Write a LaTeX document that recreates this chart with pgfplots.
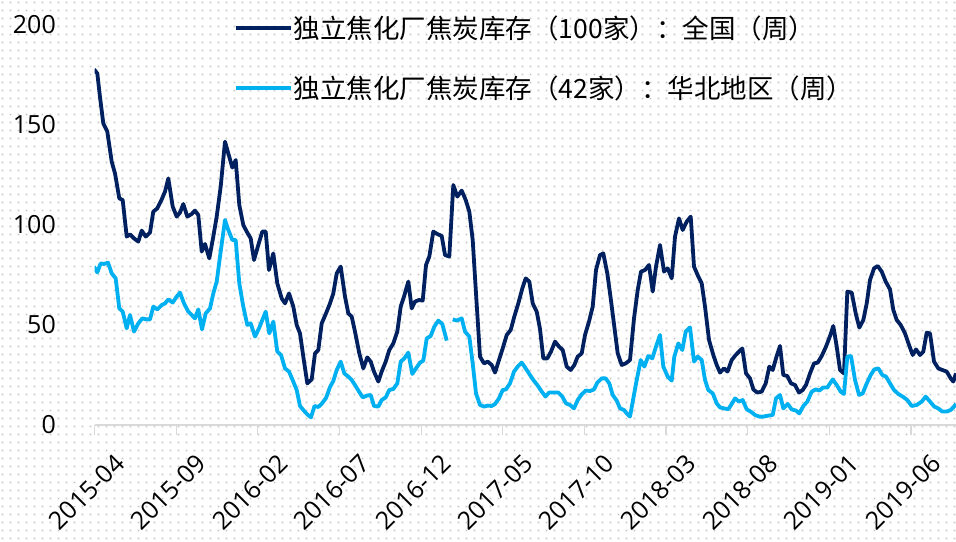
\documentclass[border=0pt]{standalone}
\usepackage{pgfplots}
\pgfplotsset{compat=1.18}
\usepackage{pgfplotstable}
\usepackage{fontspec}
\setmainfont{Open Sans}
\newfontfamily\cjk{Noto Sans CJK SC}
\usetikzlibrary{patterns}
\definecolor{darkblue}{RGB}{0,32,96}
\definecolor{lightblue}{RGB}{0,176,240}
\definecolor{axisgray}{RGB}{217,217,217}
\definecolor{dotgray}{RGB}{200,200,200}
\pgfdeclarepatternformonly{bgdots}{\pgfpoint{0pt}{0pt}}{\pgfpoint{8pt}{8pt}}{\pgfpoint{8pt}{8pt}}{\pgfpathrectangle{\pgfpoint{3pt}{3pt}}{\pgfpoint{2pt}{2pt}}\pgfusepath{fill}}

% px = horizontal position (2015-04 at 94.5, 16.33 per month)
\pgfplotstableread{
px v
94 177.8
97.3 175.8
100 164
103.3 150.8
107.3 146.7
111.7 131.7
115 125.8
119.3 113.3
122.7 112.5
126.7 94.2
130 95.3
134 93.3
138.3 91.7
141.7 97.2
145.7 94.2
150 96.2
153.3 106.7
157.3 108.3
161.7 112.8
165 116.7
168.3 123.3
172.7 109.2
176.7 104.2
180 106.2
183.3 110.5
187.3 104.2
191.7 105.5
195 107.2
198.3 105
201.7 86.7
205 90.5
209.3 83.3
213.3 94.2
216.7 104.2
220.7 119.2
225 141.7
228.3 135.8
232.3 128.7
235.7 132.5
239.3 110
243.3 100
246.7 96.7
250.7 93.3
254 82.5
258.3 90
262.3 96.7
265.7 96.7
269 77.5
273.3 85.8
277.3 70.8
281.7 63.3
285 60.8
289 65.8
293.3 59.2
296.7 50
300 45.8
303.3 34.2
307.3 20.8
311.7 22.8
315 35.8
318.3 37.5
321.7 50.8
326 55.8
330 60.8
333.3 65.8
336.7 75.8
340.7 79.2
345 64.2
348.3 55.8
351.7 54.2
355 46.7
359.3 35.8
363.3 28.3
367.3 33.8
370.7 31.7
374 26.7
378.3 21.7
381.7 26.7
385.7 31.7
389.3 37.5
393.3 40.8
397.3 46.7
400.7 59.2
404 64.2
408.3 71.7
411.7 58.3
415 61.7
419 62.5
422.7 62.2
426 80
429.3 84.2
433.3 96.7
437.3 95.5
441.7 94.5
445 85
449.3 84.2
453.3 120
457.3 114.2
461.7 117.2
465.7 112.5
469.3 106.7
472.7 92.5
476 65.8
480 34.2
484 30.8
487.7 31.7
491.7 30
495 26.2
499 32.5
502.7 38.3
506.7 45
510.7 47.5
514.3 54.2
518.3 60.8
522.3 68.3
525.7 73.3
529.3 71.7
532.7 60.8
536.7 56.7
540 48
543.3 33.3
547.3 33.3
551 36.7
555 41.7
559 39.2
562.7 37.5
566.7 29.2
570.7 27.5
574.3 30
577.7 34.2
581.7 35.8
585 45
589 51.7
592.7 59.2
596 77.5
600 85
603.3 85.8
607.3 75.8
610.7 63.3
614.3 49.2
617.7 35.8
621.7 30
625.7 30.8
630 32.5
634 53.3
637.7 67.5
641 76.7
645 77.5
649 80
652.7 66.7
656 79.2
660 90
664 76.7
667.7 78.3
671.7 73.3
675 94.2
679 103.3
682.7 97.5
686.7 101.7
690.7 104.2
694 79.2
698.3 74.2
701.7 70.8
705 59.2
709 42.5
713.3 35
716.7 30
720 26.2
724 28.3
727.5 26.7
731.7 32.5
735.7 35
739 36.7
742.3 38.3
746 25.8
750 23.3
753.3 17.8
757.3 16.2
761.7 16.7
765.7 20.8
769.3 29.2
772.7 27.5
776.7 34.5
780 39.5
783.3 25
787.3 24.5
791 20.8
795 20
799 16.2
802.7 17.5
806 20
810 25.8
814 30.8
817.7 31.2
821.7 34.5
826 39.2
830 44.5
833.3 49.5
836.7 39.2
840 27.5
844 25.8
847.3 66.7
851.7 66.2
855.7 55.8
859.3 48.7
863.3 52.5
866.7 60.8
870 72.5
874 78.3
877.7 79.5
881.7 76.7
885.7 71.7
890 67.8
893.3 57.5
896.7 52.5
900.7 50
905 45.8
909 40
912.7 35
916 37.8
920 35
923.3 36.7
926.7 46.2
930 45.8
934 31.7
938.3 28.3
942.3 27.5
946.7 26.7
950.7 23.3
953.3 21.7
956 25.8
}\darkdata

\pgfplotstableread{
px v
94 79.2
97.3 76.3
100.7 80.8
104 80.5
108 81.2
111.7 75.8
115.7 73.3
119.3 58.3
122.7 56.7
126.7 48.3
130 55
134 46.7
138.3 50.8
142.3 53.3
146.7 52.8
150 52.8
153.3 59.2
157.3 57.8
161.7 60
165 60.8
168.3 62.8
172.7 61.2
176.7 64.2
180 66.2
184 60.8
188.3 56.7
191.7 55
195 53.3
198.3 57.8
202 47.8
205.7 55.8
210 58.3
213.3 65.8
216.7 71.7
220 84.2
225 102.5
228.3 97.5
232.3 92.5
235.7 92.5
239.3 70.8
243.3 59.2
247.3 50
250.7 50.8
255 44.2
259 48.3
262.3 52.5
265.7 56.7
269.3 45.8
273.3 51.7
277.3 36.7
281 35
285 28.3
289 26.7
293.3 21.7
296.7 17.5
300 9.5
303.3 7.5
307.5 5.2
311 3.8
314.5 9.5
318.3 9
321.7 10.6
326 13.5
330 19
333.3 22
336.7 27.5
340.7 31.7
344.3 25.8
348.3 24.2
351.7 22.5
355 20
359 16.7
362.7 13.8
366.7 14.7
370.7 15
374 9.5
378.3 9.2
381.7 12.5
385.7 13.8
389.3 17.5
393.3 18
397.3 20.8
400.7 31.7
404.3 33.3
408.3 36.2
412.3 25.5
416 28.3
420 31.2
423.3 32.2
426.7 43.3
430.7 44.5
434.3 49.2
438.3 52.2
442.3 50.5
446.7 42.2
449.5 nan
452.7 52.8
456.7 52.2
461.7 53.3
465 46.7
469.3 44.2
472.7 30.8
476 15.8
480 10
484 9.2
487.7 9.7
491.7 9.5
495 10.5
499 13.3
502.7 17.5
506 17.8
510 20.8
514 26.7
517.7 29.2
521.7 31.2
525.7 28.3
530 25
533.3 22.5
537.3 20
541.7 16.7
545.5 14.2
549 16.2
553.3 16.2
558.3 16.2
562.3 14.2
566 10.8
570 10
574 8.3
577.7 12.5
581.7 15.3
585.7 17.2
590 17
594 17.8
597.3 21.2
601.7 23.3
605.7 23.3
609.3 20.8
612.7 15
616.7 12.2
620 8.3
624 7.5
626.7 5.8
630 4.2
633.3 13.3
636.7 22.5
640.7 32.5
644.3 29.2
648.3 34.5
652.3 33.3
656 39.2
660 45
663.3 29.2
667.7 24.2
671.7 22.2
674.3 34.2
678.3 40.8
682.3 37.5
685.7 46.7
690 48.8
694 31.7
697.7 34.2
701.7 32.5
705 22.5
708.3 17.5
712.7 15.8
716.7 10.8
720 8.8
724 8.3
728.3 7.9
731.7 10.5
735 13.3
739 11.7
742.7 12.5
746.7 7.8
750.7 6.7
755 5
759.3 4.2
763.3 4.2
768.3 4.7
772.7 5
776 13.3
780 15
783.3 8.3
787.7 10.5
791.7 7.8
796 7.2
799.3 5.8
803.3 9.5
807.3 11.7
811.7 16.7
815.7 17.8
819.3 17.2
823.3 18.8
827.3 18.7
832.7 22.8
836.7 20
840.7 16.7
844 15.5
847.3 34.2
851 34.5
855 22.5
859 15
862.7 15.8
866.7 20.8
870.7 25
874.3 27.8
878.3 28.3
882.3 25
886 24.2
890 20.8
894 17.5
898.3 15.5
902.7 14.2
907.3 12.5
911.7 9.5
916.7 10
921.7 11.7
925.7 14.2
930 11.7
934.3 9.2
938.3 8.3
942.3 6.7
946.7 6.7
950.7 7.5
954 9.2
956 10.5
}\lightdata

\begin{document}
\begin{tikzpicture}
\useasboundingbox (0,0) rectangle (956pt,541pt);
\fill[pattern=bgdots, pattern color=dotgray] (0,0) rectangle (956pt,541pt);
\begin{axis}[
  at={(94.5pt,116pt)}, anchor=south west,
  scale only axis, width=861.5pt, height=400pt,
  xmin=0, xmax=52.755, ymin=0, ymax=200,
  axis x line*=bottom, axis y line*=left,
  x axis line style={draw=axisgray, line width=1.5pt},
  y axis line style={draw=none},
  xtick={0,5,...,50},
  xticklabels={2015-04,2015-09,2016-02,2016-07,2016-12,2017-05,2017-10,2018-03,2018-08,2019-01,2019-06},
  ytick={0,50,100,150,200},
  tick align=outside, major tick length=10pt,
  xtick style={draw=axisgray, line width=1.2pt},
  ytick style={draw=none},
  /pgf/number format/assume math mode=true,
  tick label style={font=\fontsize{25}{30}\selectfont, text=black},
  yticklabel style={anchor=east, inner sep=0pt, xshift=-28.5pt},
  xticklabel style={rotate=45, anchor=east, inner sep=0pt, yshift=-35pt, xshift=1pt},
  unbounded coords=jump,
  legend style={at={(0.1613,0.9175)}, anchor=west, draw=none, fill=none,
    font=\cjk\fontsize{26.5}{31}\selectfont, row sep=33pt, inner sep=0pt,
    nodes={inner sep=1.5pt},
    /tikz/every even column/.append style={column sep=0pt}},
  legend cell align=left,
  legend image code/.code={\draw[#1] (0pt,0pt) -- (55pt,0pt);},
]
\addplot[darkblue, line width=3.8pt, line join=round] table[x expr=(\thisrow{px}-94.5)/16.33, y=v] {\darkdata};
\addlegendentry{独立焦化厂焦炭库存（100家）：全国（周）}
\addplot[lightblue, line width=3.8pt, line join=round] table[x expr=(\thisrow{px}-94.5)/16.33, y=v] {\lightdata};
\addlegendentry{独立焦化厂焦炭库存（42家）：华北地区（周）}
\end{axis}
\end{tikzpicture}
\end{document}
